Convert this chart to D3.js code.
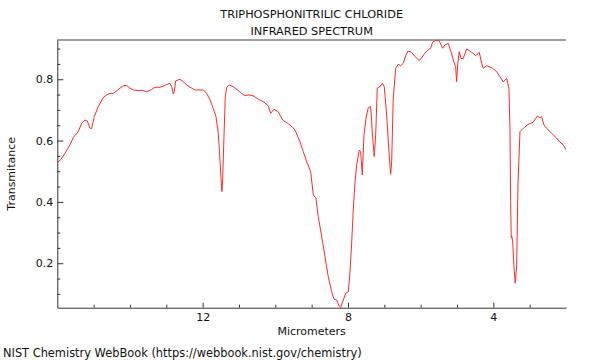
<!DOCTYPE html>
<html>
<head>
<meta charset="utf-8">
<script src="https://cdn.jsdelivr.net/npm/d3@7"></script>
<style>
  html, body { margin: 0; padding: 0; background: #fff; }
  svg { display: block; font-family: "DejaVu Sans", sans-serif; }
</style>
</head>
<body>
<svg id="chart" width="600" height="360"></svg>
<script>
// ---- data ----
const titleLines = ["TRIPHOSPHONITRILIC CHLORIDE", "INFRARED SPECTRUM"];
const xLabel = "Micrometers";
const yLabel = "Transmitance";
const footer = "NIST Chemistry WebBook (https://webbook.nist.gov/chemistry)";

const wavelength = [
  16.00, 15.898, 15.788, 15.651, 15.560, 15.422, 15.329, 15.238, 15.174, 15.100,
  15.053, 14.982, 14.872, 14.734, 14.641, 14.550, 14.459, 14.365, 14.275, 14.184,
  14.090, 14.000, 13.909, 13.771, 13.661, 13.540, 13.402, 13.311, 13.174, 13.036,
  12.899, 12.852, 12.808, 12.780, 12.742, 12.624, 12.533, 12.439, 12.302, 12.211,
  12.073, 11.982, 11.889, 11.798, 11.707, 11.633, 11.570, 11.523, 11.487, 11.468,
  11.449, 11.413, 11.377, 11.338, 11.267, 11.157, 11.019, 10.926, 10.835, 10.744,
  10.607, 10.469, 10.331, 10.194, 10.128, 10.037, 9.919, 9.797, 9.671, 9.597,
  9.459, 9.321, 9.231, 9.137, 9.027, 8.955, 8.881, 8.818, 8.724, 8.633,
  8.543, 8.449, 8.386, 8.311, 8.240, 8.201, 8.130, 8.064, 7.992, 7.946,
  7.899, 7.855, 7.808, 7.761, 7.690, 7.651, 7.607, 7.560, 7.505, 7.442,
  7.376, 7.332, 7.277, 7.238, 7.194, 7.120, 7.057, 7.002, 6.936, 6.872,
  6.826, 6.798, 6.754, 6.688, 6.616, 6.550, 6.479, 6.404, 6.341, 6.248,
  6.157, 6.039, 5.973, 5.882, 5.791, 5.725, 5.670, 5.579, 5.488, 5.394,
  5.331, 5.240, 5.166, 5.084, 5.037, 5.009, 4.982, 4.938, 4.891, 4.828,
  4.734, 4.596, 4.478, 4.387, 4.321, 4.277, 4.183, 4.046, 3.908, 3.818,
  3.727, 3.633, 3.570, 3.542, 3.523, 3.507, 3.488, 3.468, 3.433, 3.397,
  3.358, 3.322, 3.267, 3.176, 3.039, 2.901, 2.791, 2.717, 2.670, 2.607,
  2.533, 2.395, 2.258, 2.167, 2.076, 2.000
];
const transmittance = [
  0.528, 0.539, 0.559, 0.586, 0.610, 0.629, 0.657, 0.667, 0.664, 0.640,
  0.640, 0.678, 0.711, 0.741, 0.749, 0.754, 0.754, 0.762, 0.771, 0.779,
  0.780, 0.771, 0.765, 0.763, 0.764, 0.759, 0.767, 0.774, 0.774, 0.780,
  0.787, 0.776, 0.752, 0.760, 0.795, 0.800, 0.792, 0.781, 0.771, 0.765,
  0.765, 0.765, 0.754, 0.733, 0.705, 0.678, 0.624, 0.537, 0.461, 0.434,
  0.472, 0.613, 0.743, 0.774, 0.781, 0.776, 0.763, 0.754, 0.746, 0.749,
  0.746, 0.735, 0.727, 0.713, 0.689, 0.702, 0.694, 0.667, 0.657, 0.651,
  0.635, 0.596, 0.564, 0.531, 0.499, 0.423, 0.412, 0.352, 0.287, 0.222,
  0.156, 0.107, 0.083, 0.080, 0.059, 0.056, 0.080, 0.102, 0.107, 0.167,
  0.265, 0.374, 0.461, 0.521, 0.569, 0.564, 0.488, 0.618, 0.673, 0.707,
  0.711, 0.629, 0.548, 0.618, 0.771, 0.776, 0.787, 0.776, 0.684, 0.564,
  0.490, 0.531, 0.738, 0.836, 0.849, 0.844, 0.852, 0.879, 0.892, 0.888,
  0.874, 0.861, 0.870, 0.885, 0.896, 0.901, 0.921, 0.928, 0.925, 0.901,
  0.912, 0.917, 0.890, 0.856, 0.841, 0.792, 0.847, 0.890, 0.868, 0.868,
  0.899, 0.888, 0.877, 0.888, 0.852, 0.836, 0.844, 0.838, 0.825, 0.808,
  0.792, 0.803, 0.771, 0.640, 0.401, 0.282, 0.287, 0.270, 0.191, 0.135,
  0.191, 0.455, 0.629, 0.640, 0.653, 0.660, 0.680, 0.675, 0.678, 0.651,
  0.640, 0.624, 0.608, 0.595, 0.586, 0.570
];
const xMajorTicks = [12, 8, 4];
const xMinorTicks = [15, 14, 13, 11, 10, 9, 7, 6, 5, 3];
const yMajorTicks = [0.2, 0.4, 0.6, 0.8];
const yMinorTicks = [0.1, 0.15, 0.25, 0.3, 0.35, 0.45, 0.5, 0.55, 0.65, 0.7, 0.75, 0.85, 0.9];

// ---- layout ----
const svg = d3.select("#chart");
const margin = { left: 57.3, right: 34, top: 40, bottom: 52.3 };
const W = 600, H = 360;
const x = d3.scaleLinear().domain([16, 2]).range([margin.left, W - margin.right]);
const y = d3.scaleLinear().domain([0.055, 0.928]).range([H - margin.bottom, margin.top]);

const points = wavelength.map((w, i) => [w, transmittance[i]]);

// clip
svg.append("clipPath").attr("id", "clip").append("rect")
  .attr("x", margin.left).attr("y", margin.top)
  .attr("width", W - margin.left - margin.right).attr("height", H - margin.top - margin.bottom);

// top border
svg.append("line")
  .attr("x1", margin.left).attr("x2", W - margin.right)
  .attr("y1", margin.top).attr("y2", margin.top)
  .attr("stroke", "#a0a0a0").attr("stroke-width", 2);

// spectrum
svg.append("path")
  .datum(points)
  .attr("clip-path", "url(#clip)")
  .attr("fill", "none")
  .attr("stroke", "#ff2a2a")
  .attr("stroke-width", 1)
  .attr("stroke-linejoin", "round")
  .attr("d", d3.line().x(d => x(d[0])).y(d => y(d[1])));

function styleAxis(g) {
  g.selectAll(".domain").attr("stroke", "#333");
  g.selectAll(".tick line").attr("stroke", "#333");
  g.selectAll("text").attr("fill", "#111").style("font-size", "11px").style("font-family", "DejaVu Sans, sans-serif");
}

// y axis
const yAxisG = svg.append("g").attr("transform", `translate(${margin.left},0)`)
  .call(d3.axisLeft(y).tickValues(yMajorTicks).tickFormat(d3.format(".1f"))
    .tickSizeInner(-6).tickSizeOuter(0).tickPadding(4));
styleAxis(yAxisG);
const yMinorG = svg.append("g").attr("transform", `translate(${margin.left},0)`)
  .call(d3.axisLeft(y).tickValues(yMinorTicks).tickFormat("").tickSizeInner(-3).tickSizeOuter(0));
styleAxis(yMinorG);
yMinorG.select(".domain").remove();

// x axis
const xAxisG = svg.append("g").attr("transform", `translate(0,${H - margin.bottom})`)
  .call(d3.axisBottom(x).tickValues(xMajorTicks).tickFormat(d3.format("d"))
    .tickSizeInner(-5).tickSizeOuter(0).tickPadding(6));
styleAxis(xAxisG);
const xMinorG = svg.append("g").attr("transform", `translate(0,${H - margin.bottom})`)
  .call(d3.axisBottom(x).tickValues(xMinorTicks).tickFormat("").tickSizeInner(-3).tickSizeOuter(0));
styleAxis(xMinorG);
xMinorG.select(".domain").remove();

// titles
const cx = (margin.left + W - margin.right) / 2;
svg.selectAll("text.title").data(titleLines).enter().append("text")
  .attr("class", "title")
  .attr("x", cx).attr("y", (d, i) => 18 + i * 16.5)
  .attr("text-anchor", "middle")
  .style("font-size", "11.3px").attr("fill", "#111")
  .text(d => d);

svg.append("text")
  .attr("x", cx).attr("y", 335)
  .attr("text-anchor", "middle")
  .style("font-size", "11px").attr("fill", "#111")
  .text(xLabel);

svg.append("text")
  .attr("transform", `translate(15,${(margin.top + H - margin.bottom) / 2}) rotate(-90)`)
  .attr("text-anchor", "middle")
  .style("font-size", "11px").attr("fill", "#111")
  .text(yLabel);

svg.append("text")
  .attr("x", 3).attr("y", 357)
  .style("font-size", "11.4px").attr("fill", "#111")
  .text(footer);
</script>
</body>
</html>
